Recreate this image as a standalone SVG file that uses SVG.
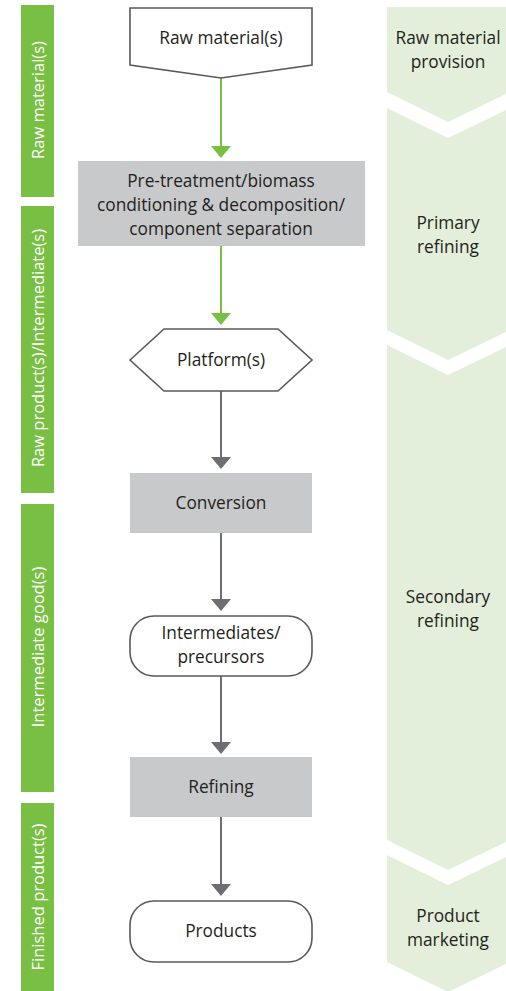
<svg xmlns="http://www.w3.org/2000/svg" width="506" height="991" viewBox="0 0 506 991">
<style>
.band{fill:#e4efdb}
.bar{fill:#78bf43}
.bartxt{font-family:"Open Sans","DejaVu Sans",sans-serif;font-size:16.5px;fill:#ffffff;text-anchor:middle}
.stage{font-family:"Open Sans","DejaVu Sans",sans-serif;font-size:17.3px;fill:#231f20;text-anchor:middle}
.lbl{font-family:"Open Sans","DejaVu Sans",sans-serif;font-size:17.3px;fill:#231f20;text-anchor:middle}
.box{fill:#c8c9cb}
.out{fill:#ffffff;stroke:#58595b;stroke-width:1.6}
.gline{stroke:#78bf43;stroke-width:2;fill:none}
.kline{stroke:#6d6e71;stroke-width:2;fill:none}
</style>
<rect width="506" height="991" fill="#ffffff"/>

<g id="bands">
<path class="band" d="M387,7 L510,7 L510,92 L448,122 L387,92 Z"/>
<path class="band" d="M387,108 L448,138 L510,108 L510,330 L448,360 L387,330 Z"/>
<path class="band" d="M387,345 L448,375 L510,345 L510,840 L448,870 L387,840 Z"/>
<path class="band" d="M387,855 L448,885 L510,855 L510,962 L448,992 L387,962 Z"/>
<text class="stage" x="448" y="44">Raw material</text>
<text class="stage" x="448" y="68">provision</text>
<text class="stage" x="448" y="229">Primary</text>
<text class="stage" x="448" y="253">refining</text>
<text class="stage" x="448" y="603">Secondary</text>
<text class="stage" x="448" y="627">refining</text>
<text class="stage" x="448" y="922">Product</text>
<text class="stage" x="448" y="946">marketing</text>
</g>

<g id="bar-raw-materials">
<rect class="bar" x="21" y="5" width="33" height="192"/>
<text class="bartxt" transform="translate(43.5,100) rotate(-90)">Raw material(s)</text>
</g>
<g id="bar-raw-products">
<rect class="bar" x="21" y="206" width="33" height="287"/>
<text class="bartxt" transform="translate(43.5,348) rotate(-90)">Raw product(s)/Intermediate(s)</text>
</g>
<g id="bar-intermediate-goods">
<rect class="bar" x="21" y="504" width="33" height="288"/>
<text class="bartxt" transform="translate(43.5,647) rotate(-90)">Intermediate good(s)</text>
</g>
<g id="bar-finished-products">
<rect class="bar" x="21" y="803" width="33" height="188"/>
<text class="bartxt" transform="translate(43.5,897) rotate(-90)">Finished product(s)</text>
</g>

<g id="connectors">
<line class="gline" x1="221" y1="78" x2="221" y2="147"/>
<path d="M211,146 L231,146 L221,158 Z" fill="#78bf43"/>
<line class="gline" x1="221" y1="246" x2="221" y2="314"/>
<path d="M211,313 L231,313 L221,325 Z" fill="#78bf43"/>
<line class="kline" x1="221" y1="391" x2="221" y2="458"/>
<path d="M211,457 L231,457 L221,469 Z" fill="#6d6e71"/>
<line class="kline" x1="221" y1="533" x2="221" y2="600"/>
<path d="M211,599 L231,599 L221,611 Z" fill="#6d6e71"/>
<line class="kline" x1="221" y1="676" x2="221" y2="743"/>
<path d="M211,742 L231,742 L221,754 Z" fill="#6d6e71"/>
<line class="kline" x1="221" y1="817" x2="221" y2="885"/>
<path d="M211,884 L231,884 L221,896 Z" fill="#6d6e71"/>
</g>

<g id="node-raw-materials">
<path class="out" d="M130,8 L312,8 L312,65 L221,78 L130,65 Z"/>
<text class="lbl" x="221" y="44">Raw material(s)</text>
</g>
<g id="node-pretreatment">
<rect class="box" x="78" y="161" width="287" height="85"/>
<text class="lbl" x="221" y="187">Pre-treatment/biomass</text>
<text class="lbl" x="221" y="211">conditioning &amp; decomposition/</text>
<text class="lbl" x="221" y="235">component separation</text>
</g>
<g id="node-platforms">
<path class="out" d="M130,360 L164,329 L278,329 L312,360 L278,391 L164,391 Z"/>
<text class="lbl" x="221" y="366">Platform(s)</text>
</g>
<g id="node-conversion">
<rect class="box" x="130" y="473" width="182" height="60"/>
<text class="lbl" x="221" y="509">Conversion</text>
</g>
<g id="node-intermediates">
<rect class="out" x="130" y="616" width="182" height="60" rx="24" ry="24"/>
<text class="lbl" x="221" y="639">Intermediates/</text>
<text class="lbl" x="221" y="663">precursors</text>
</g>
<g id="node-refining">
<rect class="box" x="130" y="757" width="182" height="60"/>
<text class="lbl" x="221" y="793">Refining</text>
</g>
<g id="node-products">
<rect class="out" x="130" y="901" width="182" height="61" rx="24" ry="24"/>
<text class="lbl" x="221" y="937">Products</text>
</g>
</svg>
